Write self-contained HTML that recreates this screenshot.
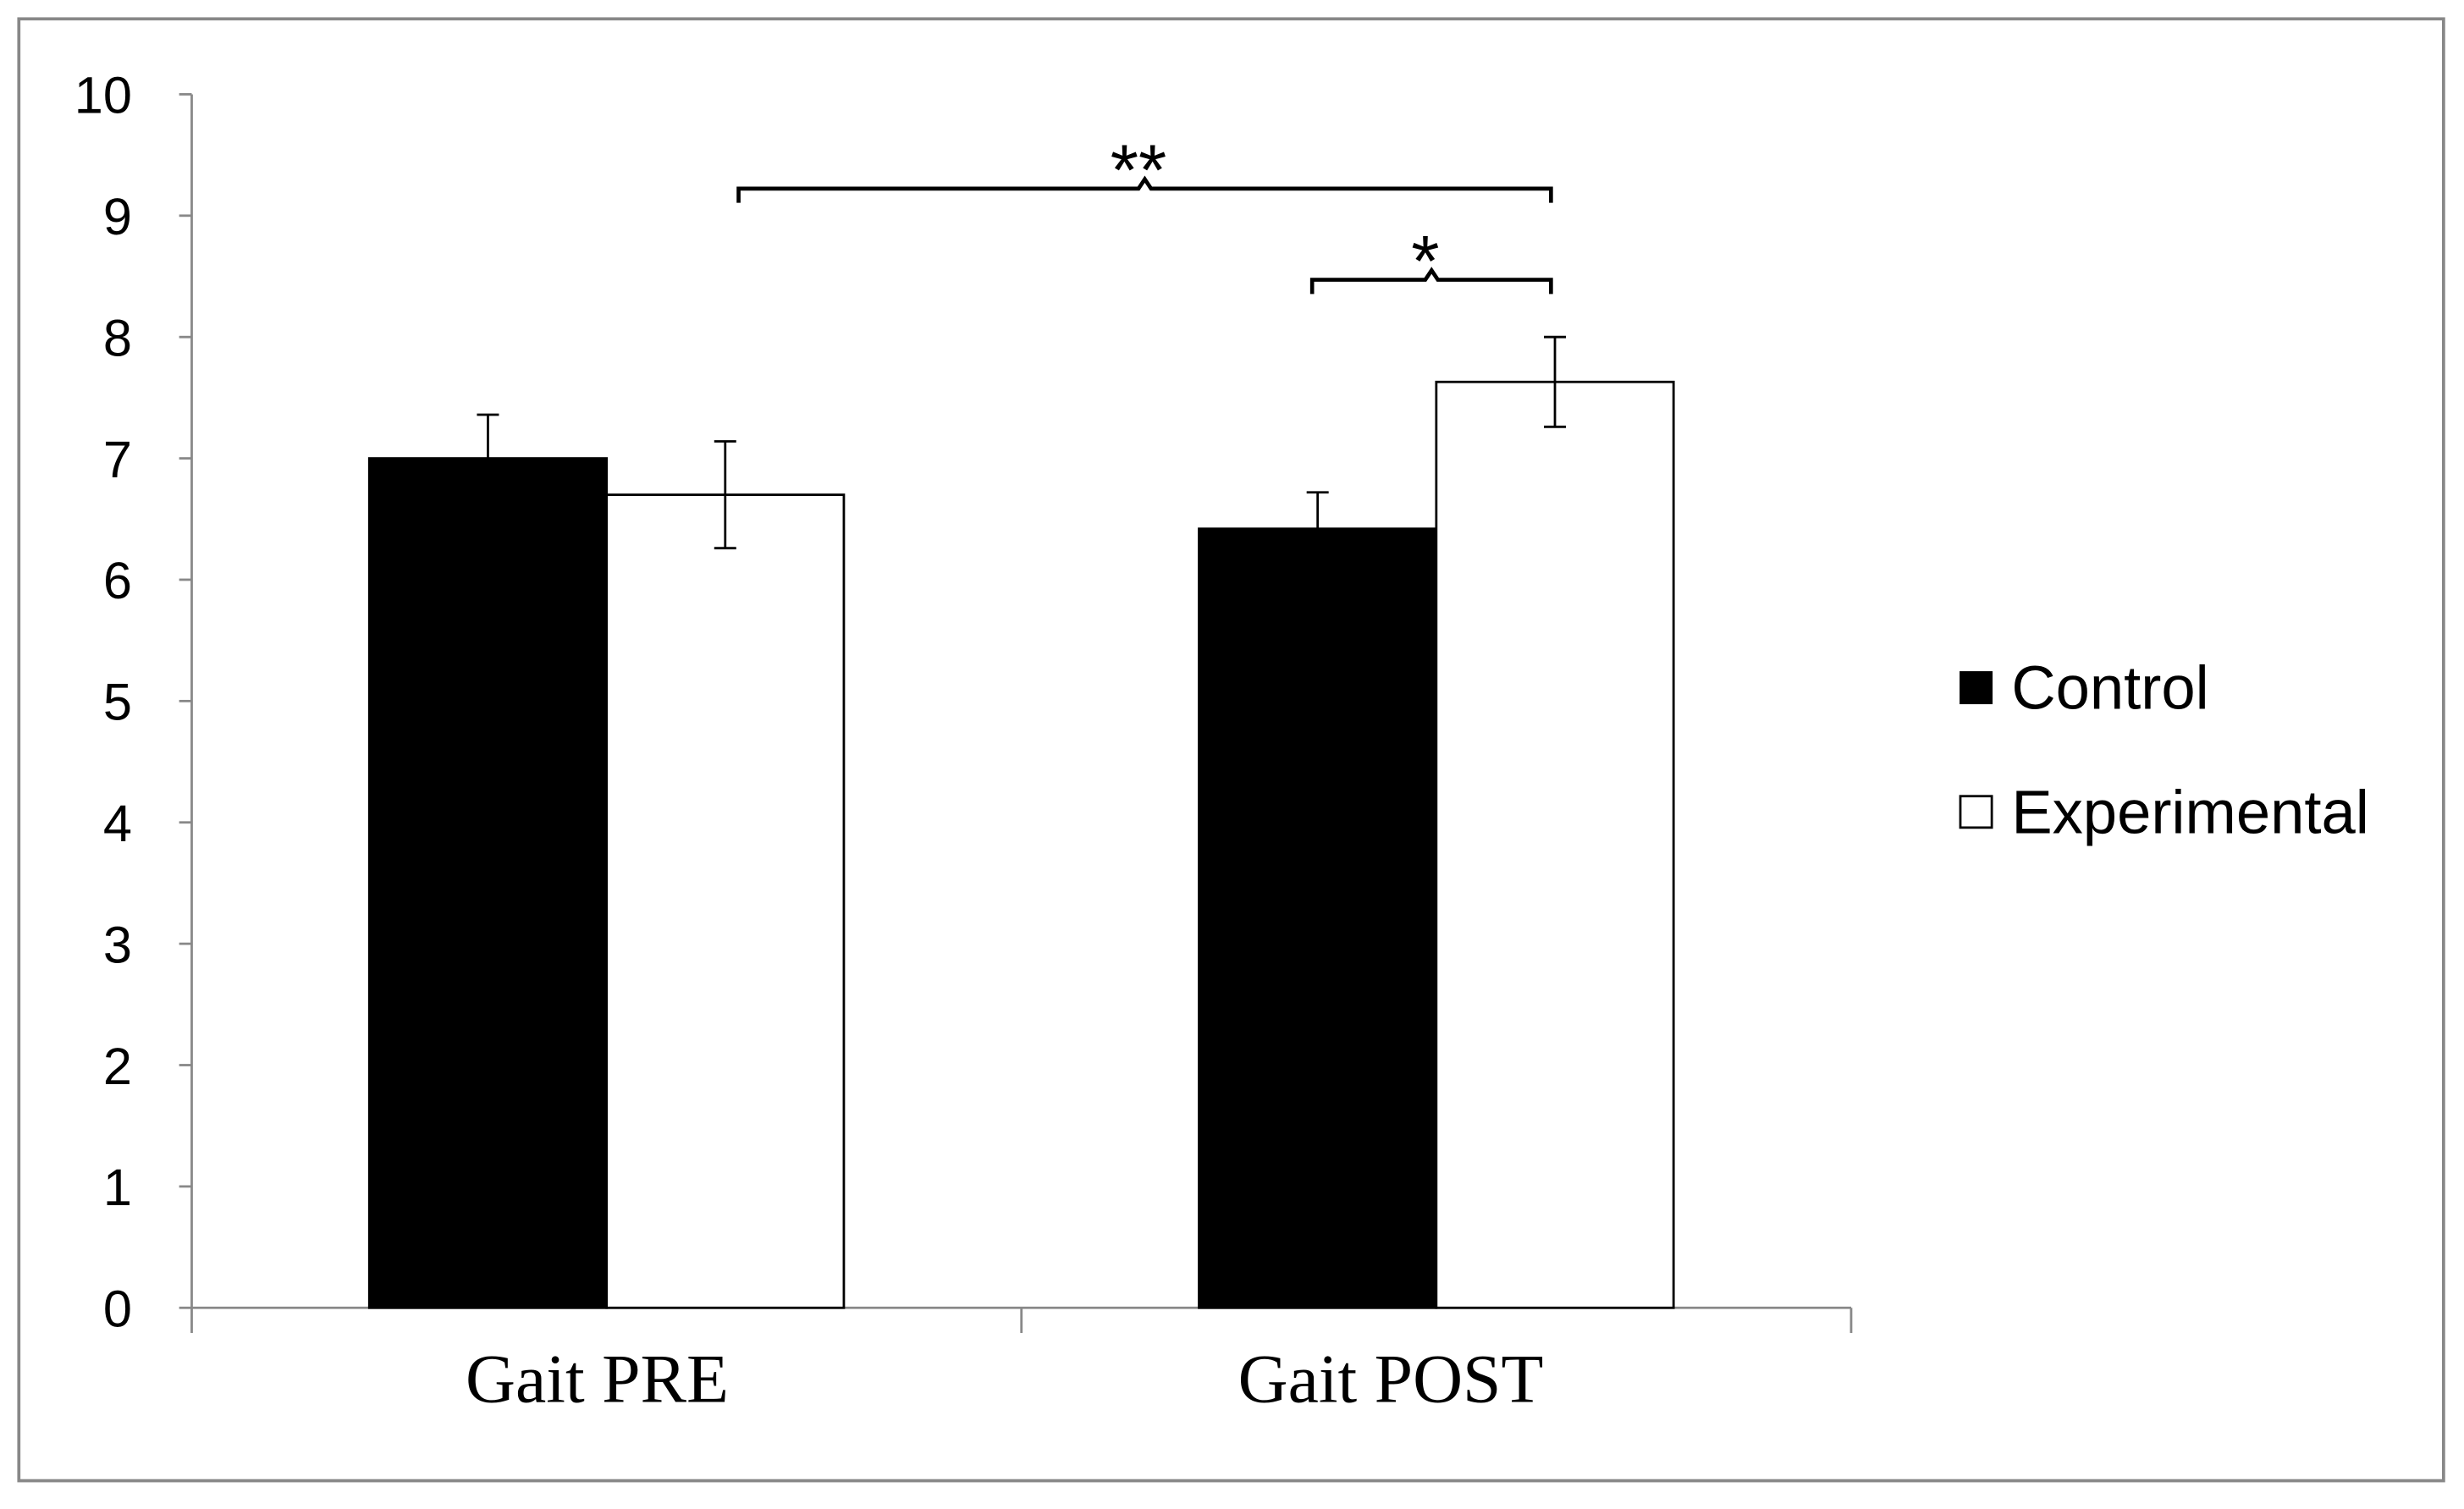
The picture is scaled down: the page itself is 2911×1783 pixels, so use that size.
<!DOCTYPE html>
<html><head><meta charset="utf-8"><style>
html,body{margin:0;padding:0;background:#fff;}
svg{display:block;}
</style></head><body>
<svg id="chart" width="2911" height="1783" viewBox="0 0 1568 960" preserveAspectRatio="none" xmlns="http://www.w3.org/2000/svg">
<rect x="12" y="12" width="1543" height="930" fill="#fff" stroke="#888" stroke-width="2"/>
<g id="axes"></g>
<g id="bars"></g>
<g id="sig"></g>
<g>
<rect x="1247" y="427" width="21" height="21" fill="#000"/>
<text x="1280" y="451" font-family="Liberation Sans, sans-serif" font-size="39" fill="#000">Control</text>
<rect x="1247.5" y="506.5" width="20" height="20" fill="#fff" stroke="#000" stroke-width="1.5"/>
<text x="1280" y="530" font-family="Liberation Sans, sans-serif" font-size="39" fill="#000">Experimental</text>
</g>
</svg>
<script>
const categories = ["Gait PRE", "Gait POST"];
const controlValues = [7.0, 6.42];
const experimentalValues = [6.7, 7.63];
const controlErr = [0.36, 0.3];
const experimentalErr = [0.44, 0.37];
const yTicks = [0,1,2,3,4,5,6,7,8,9,10];

const NS="http://www.w3.org/2000/svg";
const x0=122, x1=1178, y0=832, yTop=60;
const yScale=v=>y0-(v/10)*(y0-yTop);
const groupW=(x1-x0)/categories.length;
const barW=151;
const groupCenter=i=>x0+groupW*(i+0.5);
function mk(tag,attrs,parent){const e=document.createElementNS(NS,tag);for(const k in attrs)e.setAttribute(k,attrs[k]);parent.appendChild(e);return e;}
const axes=document.getElementById('axes'), bars=document.getElementById('bars'), sig=document.getElementById('sig');
let e=mk('line',{x1:x0,y1:yTop,x2:x0,y2:y0,stroke:'#888','stroke-width':1.5},axes);


e=mk('line',{x1:x0,y1:y0,x2:x1,y2:y0,stroke:'#888','stroke-width':1.5},axes);


yTicks.forEach(t=>{
 const y=yScale(t);
 let l=mk('line',{x1:x0-8,y1:y,x2:x0,y2:y,stroke:'#888','stroke-width':1.5},axes);
 
 
 let tx=mk('text',{x:84,y:y+12,'text-anchor':'end','font-family':'Liberation Sans, sans-serif','font-size':33,fill:'#000'},axes);
 tx.textContent=t;
 
 
});
for(let i=0;i<=categories.length;i++){
 const x=x0+groupW*i;
 let l=mk('line',{x1:x,y1:y0,x2:x,y2:y0+16,stroke:'#888','stroke-width':1.5},axes);
 
 
}
categories.forEach((c,i)=>{
 let tx=mk('text',{x:groupCenter(i)+(i?-29:-6),y:892,'text-anchor':'middle','font-family':'Liberation Serif, serif','font-size':44,fill:'#000'},axes);
 tx.textContent=c;
 
 
});
function drawBar(i,val,err,fill,offset,name){
 const cx=groupCenter(i)+offset*barW;
 const left=cx-barW/2, top=yScale(val);
 let r=mk('rect',{x:left,y:top,width:barW,height:y0-top,fill:fill,stroke:'#000','stroke-width':1.5},bars);
 
 
 const ya=yScale(val+err), yb=yScale(val-err);
 let g=mk('path',{d:`M${cx-7},${ya}H${cx+7}M${cx},${ya}V${yb}M${cx-7},${yb}H${cx+7}`,stroke:'#000','stroke-width':1.5,fill:'none'},bars);
 
 
 return cx;
}
categories.forEach((c,i)=>{
 drawBar(i,controlValues[i],controlErr[i],'#000',-0.5,'bar-control-'+i);
 drawBar(i,experimentalValues[i],experimentalErr[i],'#fff',0.5,'bar-experimental-'+i);
});
function bracket(xa,xb,y,label,name){
 const m=(xa+xb)/2;
 let p=mk('path',{d:`M${xa},${y+9}V${y}H${m-4}L${m},${y-6}L${m+4},${y}H${xb}V${y+9}`,stroke:'#000','stroke-width':2.5,fill:'none'},sig);
 
 
 let t=mk('text',{x:m-4,y:y+4,'text-anchor':'middle','font-family':'Liberation Sans, sans-serif','font-size':46,fill:'#000'},sig);
 t.textContent=label;
 
 
}
bracket(470,987,120,'**','significance-bracket-double');
bracket(835,987,178,'*','significance-bracket-single');
</script>
</body></html>
